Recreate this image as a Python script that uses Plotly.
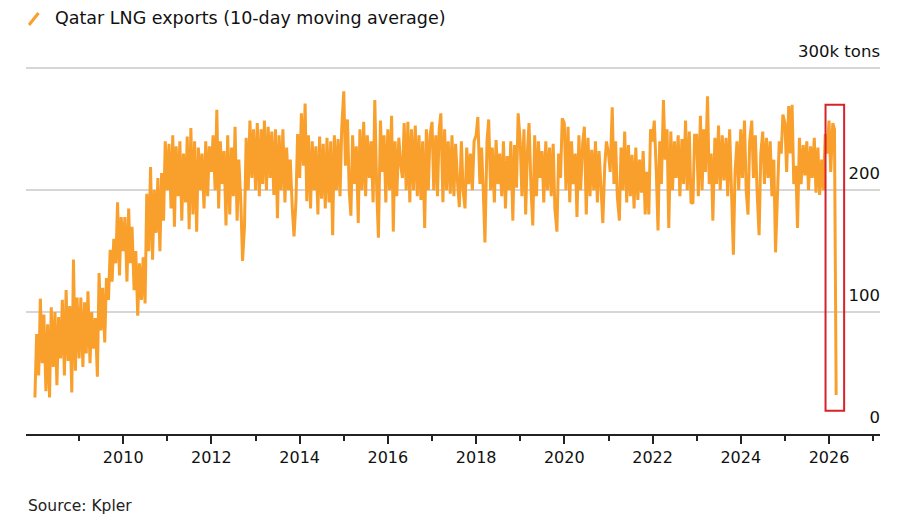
import pandas as pd
import plotly.graph_objects as go

# ---- data: Qatar LNG exports, 10-day moving average (thousand tons), semi-monthly readings ----
v2008 = [30, 82, 48, 111, 58, 98, 35, 90, 30, 104, 55, 100, 40, 96, 62, 110, 48, 118, 60, 105, 34, 143, 52, 112]
v2009 = [62, 112, 55, 108, 66, 117, 58, 100, 70, 95, 47, 132, 85, 120, 75, 128, 110, 151, 125, 160, 140, 190, 130, 178]
v2010 = [150, 178, 125, 185, 140, 170, 118, 150, 97, 140, 110, 145, 107, 197, 150, 219, 143, 200, 165, 210, 150, 214, 175, 240]
v2011 = [200, 238, 185, 245, 170, 236, 195, 240, 175, 230, 190, 244, 168, 251, 180, 240, 166, 235, 200, 230, 185, 240, 195, 236]
v2012 = [215, 245, 200, 266, 185, 240, 205, 232, 171, 245, 180, 235, 195, 252, 175, 225, 190, 142, 170, 243, 200, 257, 210, 250]
v2013 = [200, 255, 195, 250, 205, 257, 200, 252, 210, 248, 196, 250, 177, 245, 200, 250, 190, 235, 200, 225, 185, 162, 190, 246]
v2014 = [210, 263, 220, 271, 191, 245, 185, 240, 200, 236, 180, 244, 193, 238, 185, 243, 190, 240, 163, 245, 200, 242, 195, 250]
v2015 = [281, 220, 258, 200, 179, 245, 205, 236, 173, 250, 200, 256, 195, 245, 210, 240, 190, 274, 200, 161, 257, 215, 245, 190]
v2016 = [250, 200, 261, 166, 240, 195, 243, 222, 210, 255, 200, 256, 190, 250, 200, 253, 195, 245, 192, 240, 169, 250, 200, 245]
v2017 = [256, 200, 245, 195, 250, 263, 190, 250, 200, 240, 197, 245, 195, 238, 205, 186, 240, 200, 185, 235, 205, 230, 200, 240]
v2018 = [245, 260, 205, 235, 200, 157, 240, 258, 200, 235, 190, 241, 205, 230, 195, 240, 185, 228, 200, 240, 175, 237, 202, 263]
v2019 = [240, 195, 250, 180, 230, 255, 200, 171, 245, 195, 240, 210, 232, 190, 240, 200, 235, 195, 238, 185, 166, 230, 210, 259]
v2020 = [255, 200, 252, 190, 240, 205, 230, 178, 245, 200, 238, 252, 180, 243, 195, 233, 200, 240, 190, 232, 200, 173, 220, 240]
v2021 = [230, 215, 268, 205, 240, 195, 175, 235, 200, 248, 190, 237, 195, 229, 185, 235, 192, 225, 198, 232, 180, 215, 180, 250]
v2022 = [240, 257, 215, 167, 240, 205, 274, 225, 250, 169, 248, 200, 240, 210, 245, 195, 242, 205, 257, 200, 248, 190, 189, 245]
v2023 = [245, 195, 261, 200, 250, 215, 277, 205, 230, 175, 243, 205, 253, 200, 245, 208, 243, 195, 250, 200, 147, 215, 240, 200]
v2024 = [250, 210, 257, 200, 180, 240, 257, 210, 245, 200, 163, 230, 248, 205, 243, 210, 240, 195, 225, 149, 200, 240, 230, 262]
v2025 = [255, 215, 269, 230, 270, 205, 220, 169, 243, 205, 237, 212, 240, 200, 236, 210, 243, 198, 235, 196, 225, 200, 246, 230]
v2026 = [257, 215, 255, 250, 32]

yearly = [v2008, v2009, v2010, v2011, v2012, v2013, v2014, v2015, v2016,
          v2017, v2018, v2019, v2020, v2021, v2022, v2023, v2024, v2025, v2026]
values = [v for seg in yearly for v in seg]
dates = pd.date_range("2008-01-01", periods=len(values), freq="SMS")

x_label_years = list(range(2010, 2027, 2))
x_minor_years = list(range(2009, 2028, 2))
y_tick_vals = [0, 100, 200, 300]
y_tick_text = ["0", "100", "200", "300k tons"]

TITLE = "Qatar LNG exports (10-day moving average)"
SOURCE = "Source: Kpler"

# highlighted period (red box)
box_x0, box_x1 = "2025-12-03", "2026-05-06"
box_y0, box_y1 = 19, 270

ORANGE = "#F99F2C"
FONT = "DejaVu Sans"

# plot area in pixels: x 26..880, y 67..434
L, R, T, B = 26, 28, 67, 87
PW, PH = 908 - L - R, 521 - T - B


def px(x):
    return (x - L) / PW


def py(y):
    return (521 - B - y) / PH


fig = go.Figure()
fig.add_trace(go.Scatter(
    x=dates, y=values, mode="lines",
    line=dict(color=ORANGE, width=3),
    showlegend=False, hoverinfo="skip",
))

fig.add_shape(type="rect", xref="x", yref="y",
              x0=box_x0, x1=box_x1, y0=box_y0, y1=box_y1,
              line=dict(color="#D8222B", width=2), fillcolor="rgba(0,0,0,0)")

# legend-style slash icon and title
fig.add_shape(type="line", xref="paper", yref="paper",
              x0=px(29), y0=py(25), x1=px(38.5), y1=py(13),
              line=dict(color=ORANGE, width=3))
fig.add_annotation(text=TITLE, xref="paper", yref="paper", x=px(53), y=py(18),
                   xanchor="left", yanchor="middle", showarrow=False,
                   font=dict(family=FONT, size=17.5, color="#111111"))
fig.add_annotation(text=SOURCE, xref="paper", yref="paper", x=px(26), y=py(506),
                   xanchor="left", yanchor="middle", showarrow=False,
                   font=dict(family=FONT, size=15.5, color="#222222"))

fig.update_layout(
    width=908, height=521,
    margin=dict(l=L, r=R, t=T, b=B, autoexpand=False),
    paper_bgcolor="white", plot_bgcolor="white",
    font=dict(family=FONT, color="#111111"),
    showlegend=False,
)

fig.update_xaxes(
    type="date", automargin=False,
    range=["2007-10-19", "2027-02-27"],
    tickmode="array",
    tickvals=[f"{y}-01-01" for y in x_label_years],
    ticktext=[str(y) for y in x_label_years],
    ticks="outside", ticklen=8, tickwidth=1.5, tickcolor="#222222",
    minor=dict(tickmode="array", tickvals=[f"{y}-01-01" for y in x_minor_years],
               ticks="outside", ticklen=5, tickwidth=1.5, tickcolor="#222222", showgrid=False),
    showgrid=False, zeroline=False,
    showline=True, linecolor="#222222", linewidth=1.5,
    tickfont=dict(family=FONT, size=16, color="#111111"),
)

fig.update_yaxes(
    range=[0, 301], automargin=False,
    side="right",
    tickmode="array", tickvals=y_tick_vals, ticktext=y_tick_text,
    ticklabelposition="inside top", ticklabeloverflow="allow",
    ticklabelshift=-5, ticklabelstandoff=-3,
    ticks="", showline=False, zeroline=False,
    showgrid=True, gridcolor="#D6D6D6", gridwidth=1.5,
    tickfont=dict(family=FONT, size=16.5, color="#111111"),
)

fig.write_html("out.html", config={"displayModeBar": False},
               post_script="document.body.style.margin='0';")
